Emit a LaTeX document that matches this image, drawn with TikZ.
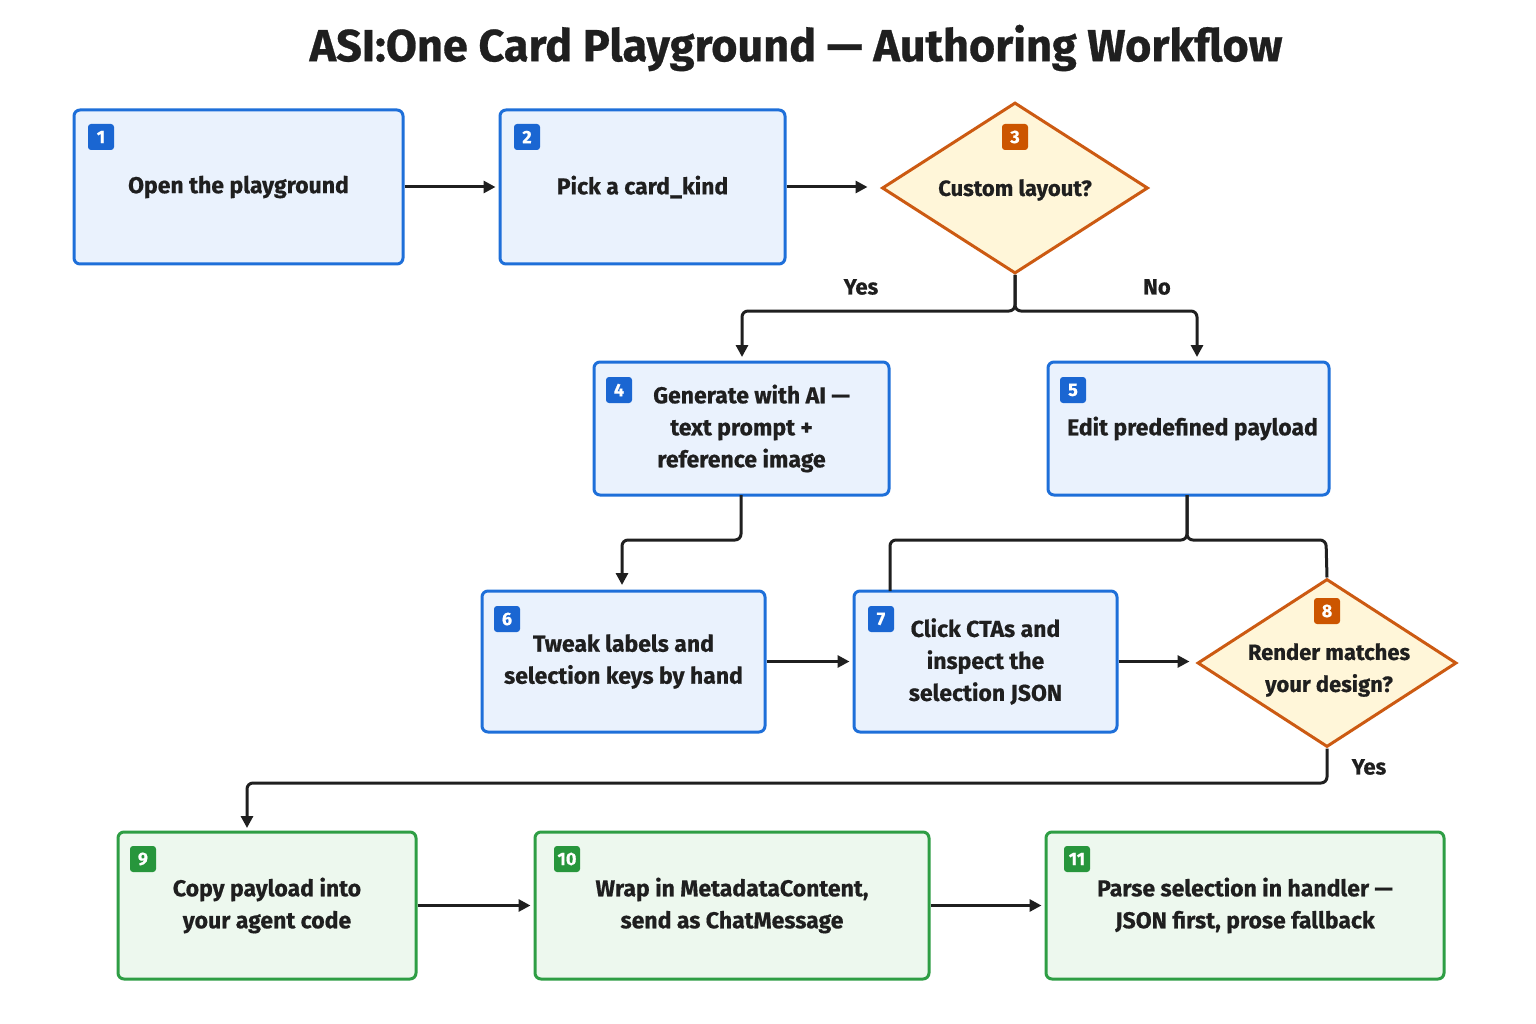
\documentclass[tikz,border=0pt]{standalone}
\usepackage{fontspec}
\setmainfont{Fira Sans}[FakeBold=0.6]
\usetikzlibrary{shapes.geometric,arrows.meta}
\definecolor{bfill}{HTML}{EAF2FD}\definecolor{bline}{HTML}{1E6FD9}\definecolor{bbadge}{HTML}{1A66D2}
\definecolor{ofill}{HTML}{FFF6D9}\definecolor{oline}{HTML}{CC5A12}\definecolor{obadge}{HTML}{CC5500}
\definecolor{gfill}{HTML}{EDF8EE}\definecolor{gline}{HTML}{2E9E44}\definecolor{gbadge}{HTML}{27963C}
\definecolor{ink}{HTML}{1F1F1F}
\begin{document}
\begin{tikzpicture}[x=1pt,y=-1pt,
  txt/.style={align=center,inner sep=0,font=\fontsize{23}{32}\selectfont\bfseries,text=ink},
  box/.style={txt,draw,line width=3pt,rounded corners=6pt},
  bbox/.style={box,draw=bline,fill=bfill},
  gbox/.style={box,draw=gline,fill=gfill},
  dia/.style={diamond,draw=oline,fill=ofill,line width=3pt,inner sep=0},
  badge/.style={rounded corners=3pt,minimum width=26pt,minimum height=26pt,inner sep=0,text=white,font=\fontsize{18}{18}\selectfont\bfseries},
  con/.style={draw=ink,line width=3pt},
  arr/.style={con,-{Triangle[length=12pt,width=12pt]}},
  lab/.style={font=\fontsize{22}{22}\selectfont\bfseries,text=ink}]
\useasboundingbox[fill=white] (0,0) rectangle (1536,1024);
\node[font=\fontsize{45}{45}\selectfont\bfseries,text=ink] (title) at (796,48) {ASI:One Card Playground — Authoring Workflow};
\node[bbox,minimum width=329pt,minimum height=154pt] (n1) at (238.5,187) {Open the playground};
\node[bbox,minimum width=285pt,minimum height=154pt] (n2) at (642.5,187) {Pick a card\_kind};
\node[dia,minimum width=266pt,minimum height=171pt] (n3) at (1015,188) {};
\node[txt,font=\fontsize{22}{32}\selectfont\bfseries] (t3) at (1015,190) {Custom layout?};
\node[bbox,minimum width=295pt,minimum height=133pt] (n4) at (741.5,428.5) {\hspace*{20pt}Generate with AI —\\text prompt +\\reference image};
\node[bbox,minimum width=281pt,minimum height=133pt] (n5) at (1188.5,428.5) {\hspace*{8pt}Edit predefined payload};
\node[bbox,minimum width=283pt,minimum height=141pt] (n6) at (623.5,661.5) {Tweak labels and\\selection keys by hand};
\node[bbox,minimum width=263pt,minimum height=141pt] (n7) at (985.5,661.5) {Click CTAs and\\inspect the\\selection JSON};
\node[dia,minimum width=259pt,minimum height=168pt] (n8) at (1327,663) {};
\node[txt,font=\fontsize{22}{32}\selectfont\bfseries] (t8) at (1329,670) {Render matches\\your design?};
\node[gbox,minimum width=298pt,minimum height=147pt] (n9) at (267,905.5) {Copy payload into\\your agent code};
\node[gbox,minimum width=394pt,minimum height=147pt] (n10) at (732,905.5) {Wrap in MetadataContent,\\send as ChatMessage};
\node[gbox,minimum width=398pt,minimum height=147pt] (n11) at (1245,905.5) {Parse selection in handler —\\JSON first, prose fallback};
\node[badge,fill=bbadge] (b1) at (101,137) {1};
\node[badge,fill=bbadge] (b2) at (527,137) {2};
\node[badge,fill=obadge] (b3) at (1015,137) {3};
\node[badge,fill=bbadge] (b4) at (619,390) {4};
\node[badge,fill=bbadge] (b5) at (1073,390) {5};
\node[badge,fill=bbadge] (b6) at (507,619) {6};
\node[badge,fill=bbadge] (b7) at (881,619) {7};
\node[badge,fill=obadge] (b8) at (1327,611) {8};
\node[badge,fill=gbadge] (b9) at (143,859) {9};
\node[badge,fill=gbadge] (b10) at (567,859) {10};
\node[badge,fill=gbadge] (b11) at (1077,859) {11};
\draw[arr] (n1.east) -- ++(91,0);
\draw[arr] (n2.east) -- ++(81,0);
\draw[arr,rounded corners=6pt] (n3.south) -- (1015,311) -- (742,311) -- (742,357);
\draw[arr,rounded corners=6pt] (n3.south) -- (1015,311) -- (1197,311) -- (1197,357);
\node[lab] (yes1) at (861,287) {Yes};
\node[lab] (no1) at (1157,287) {No};
\draw[arr,rounded corners=6pt] (741,495) -- (741,540) -- (622,540) -- (622,585);
\draw[con,rounded corners=6pt] (1187,495) -- (1187,540) -- (890,540) -- (890,591);
\draw[con,rounded corners=6pt] (1187,495) -- (1187,540) -- (1326,540) -- (n8.north);
\draw[arr] (n6.east) -- ++(83,0);
\draw[arr] (n7.east) -- ++(71,0);
\draw[arr,rounded corners=6pt] (n8.south) -- (1327,783) -- (247,783) -- (247,828);
\node[lab] (yes2) at (1369,767) {Yes};
\draw[arr] (n9.east) -- ++(113,0);
\draw[arr] (n10.east) -- ++(111,0);
\end{tikzpicture}
\end{document}
